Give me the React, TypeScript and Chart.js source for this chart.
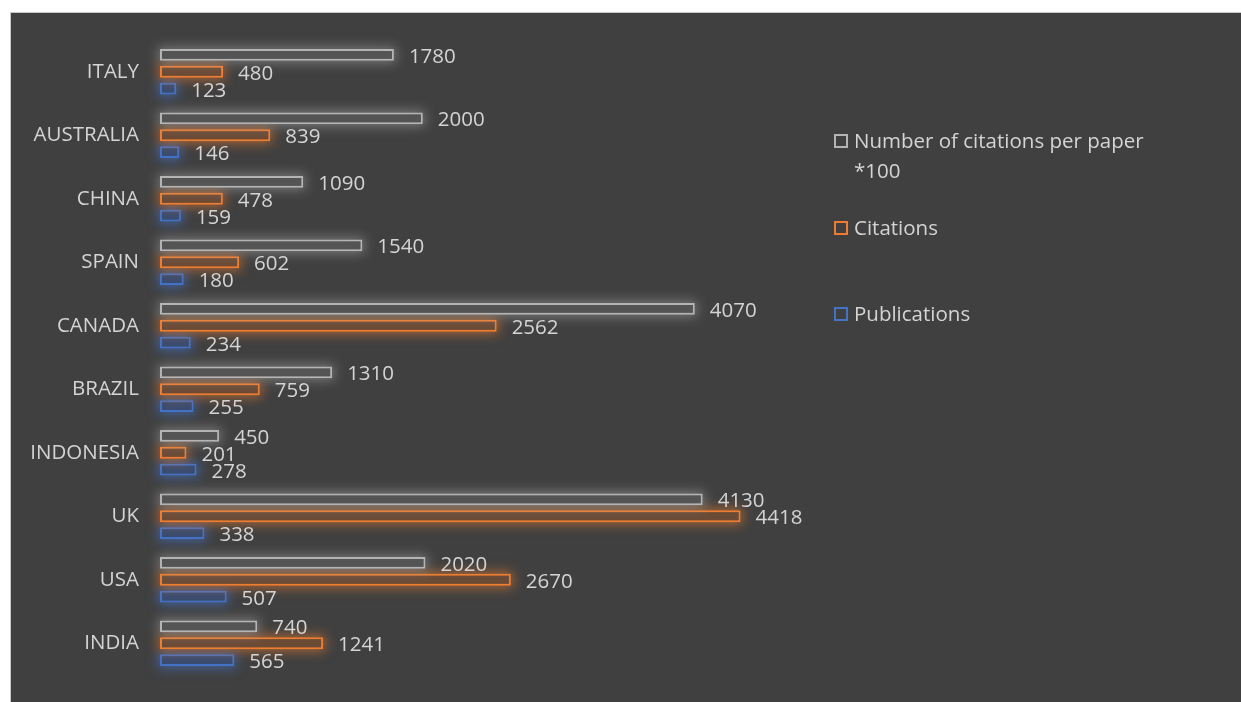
import React, { useEffect, useRef } from "react";
import { Chart, registerables } from "chart.js";

Chart.register(...registerables);

const countries = ["ITALY", "AUSTRALIA", "CHINA", "SPAIN", "CANADA", "BRAZIL", "INDONESIA", "UK", "USA", "INDIA"];
const citationsPerPaper100 = [1780, 2000, 1090, 1540, 4070, 1310, 450, 4130, 2020, 740];
const citations = [480, 839, 478, 602, 2562, 759, 201, 4418, 2670, 1241];
const publications = [123, 146, 159, 180, 234, 255, 278, 338, 507, 565];
const seriesNames = ["Number of citations per paper *100", "Citations", "Publications"];

const GRAY = "#b4b4b4";
const ORANGE = "#ed7d31";
const BLUE = "#4472c4";
const TEXT = "#d4d4d4";
const FONT = "'Open Sans', 'Noto Sans', sans-serif";

const glows = ["rgba(190,190,190,0.45)", "rgba(237,125,49,0.6)", "rgba(68,114,196,0.7)"];

const glowPlugin = {
  id: "glow",
  beforeDatasetDraw(chart: any, args: any) {
    const ctx = chart.ctx;
    const meta = args.meta;
    const off = 5000;
    ctx.save();
    ctx.shadowColor = glows[args.index];
    ctx.shadowBlur = 12;
    ctx.shadowOffsetX = off;
    ctx.shadowOffsetY = 0;
    ctx.fillStyle = "#000";
    meta.data.forEach((el: any) => {
      const h = el.height + 4;
      const x0 = Math.min(el.base, el.x) - 2;
      const w = Math.abs(el.x - el.base) + 4;
      ctx.fillRect(x0 - off, el.y - h / 2, w, h);
    });
    ctx.restore();
  },
};

const labelPlugin = {
  id: "valueLabels",
  afterDatasetsDraw(chart: any) {
    const ctx = chart.ctx;
    ctx.save();
    ctx.font = `20.5px ${FONT}`;
    ctx.fillStyle = TEXT;
    ctx.textAlign = "left";
    ctx.textBaseline = "middle";
    chart.data.datasets.forEach((ds: any, di: number) => {
      const meta = chart.getDatasetMeta(di);
      meta.data.forEach((el: any, i: number) => {
        ctx.fillText(String(ds.data[i]), el.x + 15, el.y + 2);
      });
    });
    ctx.restore();
  },
};

export default function App() {
  const ref = useRef<HTMLCanvasElement>(null);
  useEffect(() => {
    const chart = new Chart(ref.current!, {
      type: "bar",
      data: {
        labels: countries,
        datasets: [
          { label: seriesNames[0], data: citationsPerPaper100, borderColor: GRAY, backgroundColor: "#545454" },
          { label: seriesNames[1], data: citations, borderColor: ORANGE, backgroundColor: "#6b4b36" },
          { label: seriesNames[2], data: publications, borderColor: BLUE, backgroundColor: "#394c70" },
        ].map((d) => ({ ...d, borderWidth: 2, borderSkipped: false, categoryPercentage: 0.8, barPercentage: 0.7 })),
      },
      options: {
        indexAxis: "y",
        animation: false,
        responsive: false,
        layout: { padding: { left: 0, right: 424, top: 27, bottom: 27 } },
        plugins: { legend: { display: false }, tooltip: { enabled: false } },
        scales: {
          x: { display: false, min: 0, max: 5000 },
          y: {
            grid: { display: false, drawTicks: false },
            border: { display: false },
            afterFit: (s: any) => { s.width = 149; },
            ticks: { color: TEXT, padding: 21, font: { family: FONT, size: 20.5, lineHeight: 0.4 } },
          },
        },
      },
      plugins: [glowPlugin, labelPlugin],
    });
    return () => chart.destroy();
  }, []);

  const legendItem = (top: number, color: string, lines: string[]) => (
    <div style={{ position: "absolute", left: 823, top, display: "flex", alignItems: "flex-start" }}>
      <div style={{ width: 10, height: 10, border: `2px solid ${color}`, marginTop: 9, marginRight: 6, boxSizing: "content-box" }} />
      <div style={{ color: TEXT, fontFamily: FONT, fontSize: 20.5, lineHeight: "30px" }}>
        {lines.map((l, i) => (<div key={i}>{l}</div>))}
      </div>
    </div>
  );

  return (
    <div style={{ position: "absolute", left: 10, top: 12, width: 1231, height: 690, background: "#404040", borderTop: "1px solid #c8c8c8", borderLeft: "1px solid #c8c8c8", boxSizing: "border-box" }}>
      <canvas ref={ref} width={1230} height={689} style={{ position: "absolute", left: 0, top: 0 }} />
      {legendItem(112, GRAY, ["Number of citations per paper", "*100"])}
      {legendItem(199, ORANGE, ["Citations"])}
      {legendItem(285, BLUE, ["Publications"])}
    </div>
  );
}
